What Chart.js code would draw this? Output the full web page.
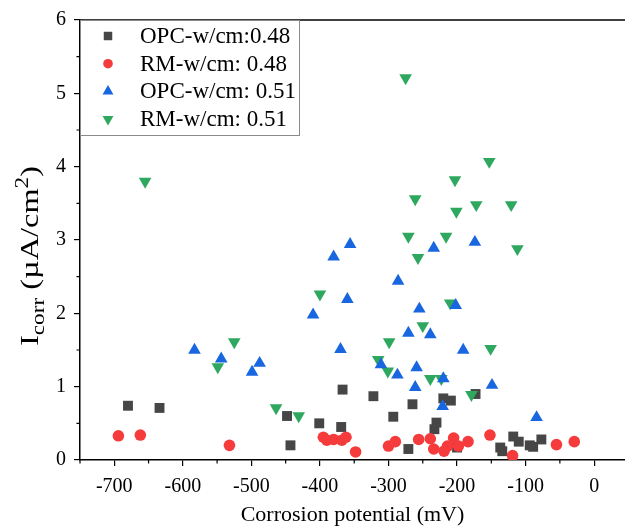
<!DOCTYPE html>
<html>
<head>
<meta charset="utf-8">
<script src="https://cdn.jsdelivr.net/npm/chart.js@4/dist/chart.umd.min.js"></script>
<style>
  html, body { margin: 0; padding: 0; background: #fff; }
</style>
</head>
<body>
<canvas id="chart" width="625" height="532"></canvas>
<script>
// [corrosion potential (mV), Icorr (uA/cm2)]
const opc048 = [
  [-680, 0.74], [-634, 0.71], [-448, 0.60], [-443, 0.20], [-401, 0.50], [-369, 0.45],
  [-367, 0.96], [-322, 0.87], [-293, 0.59], [-271, 0.15], [-265, 0.76], [-233, 0.42],
  [-230, 0.51], [-220, 0.84], [-209, 0.81], [-200, 0.17], [-173, 0.90], [-137, 0.17],
  [-134, 0.12], [-118, 0.32], [-110, 0.25], [-94, 0.20], [-89, 0.18], [-77, 0.28]
];
const rm048 = [
  [-694, 0.33], [-662, 0.34], [-532, 0.20], [-395, 0.31], [-390, 0.27], [-380, 0.28],
  [-368, 0.27], [-362, 0.31], [-348, 0.11], [-300, 0.19], [-290, 0.25], [-256, 0.28],
  [-239, 0.29], [-234, 0.15], [-219, 0.12], [-214, 0.19], [-205, 0.30], [-198, 0.19],
  [-184, 0.25], [-152, 0.34], [-119, 0.06], [-55, 0.21], [-29, 0.25]
];
const opc051 = [
  [-583, 1.50], [-544, 1.38], [-499, 1.20], [-488, 1.32], [-410, 1.98], [-380, 2.77],
  [-370, 1.51], [-360, 2.19], [-356, 2.94], [-311, 1.30], [-287, 1.16], [-286, 2.44],
  [-271, 1.73], [-261, 0.99], [-259, 1.26], [-255, 2.06], [-239, 1.71], [-234, 2.89],
  [-221, 0.73], [-220, 1.11], [-202, 2.11], [-191, 1.50], [-174, 2.97], [-149, 1.02],
  [-84, 0.58]
];
const rm051 = [
  [-655, 3.80], [-549, 1.27], [-525, 1.61], [-464, 0.71], [-431, 0.60], [-400, 2.26],
  [-315, 1.37], [-301, 1.21], [-299, 1.61], [-275, 5.21], [-271, 3.05], [-261, 3.56],
  [-257, 2.76], [-250, 1.83], [-239, 1.11], [-223, 1.11], [-216, 3.05], [-210, 2.14],
  [-203, 3.82], [-201, 3.39], [-179, 0.89], [-172, 3.48], [-153, 4.07], [-151, 1.52],
  [-121, 3.48], [-112, 2.88]
];

const seriesNames = ['OPC-w/cm:0.48', 'RM-w/cm: 0.48', 'OPC-w/cm: 0.51', 'RM-w/cm: 0.51'];
const xTicks = [-700, -600, -500, -400, -300, -200, -100, 0];
const xMinor = [-750, -650, -550, -450, -350, -250, -150, -50];
const yTicks = [0, 1, 2, 3, 4, 5, 6];
const yMinor = [0.5, 1.5, 2.5, 3.5, 4.5, 5.5];

const serif = "'Liberation Serif', 'Times New Roman', serif";

function toPoints(arr) {
  return arr.map(p => ({ x: p[0], y: p[1] }));
}

const datasets = [
  { label: seriesNames[0], data: toPoints(opc048), pointStyle: 'rect', pointRadius: 7,
    backgroundColor: '#464646', borderColor: '#464646', borderWidth: 0, order: 4 },
  { label: seriesNames[1], data: toPoints(rm048), pointStyle: 'circle', pointRadius: 5.8,
    backgroundColor: '#f53b3b', borderColor: '#f53b3b', borderWidth: 0, order: 3 },
  { label: seriesNames[2], data: toPoints(opc051), pointStyle: 'triangle', pointRadius: 7.3,
    backgroundColor: '#1866e0', borderColor: '#1866e0', borderWidth: 0, order: 1 },
  { label: seriesNames[3], data: toPoints(rm051), pointStyle: 'triangle', pointRadius: 7.3, rotation: 180,
    backgroundColor: '#2ea85e', borderColor: '#2ea85e', borderWidth: 0, order: 2 }
];

// frame top line, minor ticks, y title, legend box
const extras = {
  id: 'extras',
  afterDraw(chart) {
    const c = chart.ctx;
    const area = chart.chartArea;
    const xs = chart.scales.x, ys = chart.scales.y;
    c.save();
    c.strokeStyle = '#000';
    c.lineWidth = 1.5;
    c.beginPath();
    c.moveTo(area.left, area.top);
    c.lineTo(area.right, area.top);
    c.stroke();

    c.lineWidth = 1.2;
    c.beginPath();
    xMinor.forEach(v => {
      const px = xs.getPixelForValue(v);
      c.moveTo(px, area.bottom);
      c.lineTo(px, area.bottom + 3.5);
    });
    yMinor.forEach(v => {
      const py = ys.getPixelForValue(v);
      c.moveTo(area.left, py);
      c.lineTo(area.left - 3.5, py);
    });
    c.stroke();

    // y axis title with subscript / superscript
    c.translate(38, 256);
    c.rotate(-Math.PI / 2);
    c.fillStyle = '#000';
    c.textBaseline = 'alphabetic';
    const big = '25px ' + serif, small = '18px ' + serif;
    const parts = [
      { t: 'I', f: big, dy: 0 },
      { t: 'corr', f: small, dy: 6 },
      { t: ' (\u00b5A/cm', f: big, dy: 0 },
      { t: '2', f: small, dy: -10 },
      { t: ')', f: big, dy: 0 }
    ];
    let total = 0;
    parts.forEach(p => { c.font = p.f; p.w = c.measureText(p.t).width; total += p.w; });
    const stretch = 180 / total;
    c.scale(stretch, 1);
    let x = -total / 2;
    parts.forEach(p => { c.font = p.f; c.fillText(p.t, x, p.dy); x += p.w; });
    c.restore();

    // legend
    c.save();
    const lx = area.left, ly = area.top, lw = 219, lh = 115;
    c.fillStyle = '#fff';
    c.fillRect(lx, ly, lw, lh);
    c.strokeStyle = '#8a8a8a';
    c.lineWidth = 1;
    c.strokeRect(lx + 0.5, ly + 0.5, lw, lh);
    c.font = '23px ' + serif;
    c.textBaseline = 'middle';
    chart.data.datasets.forEach((ds, i) => {
      const cy = ly + 16 + i * 27.7;
      c.fillStyle = ds.backgroundColor;
      Chart.helpers.drawPoint(c, {
        pointStyle: ds.pointStyle, radius: ds.pointRadius - 1, rotation: ds.rotation || 0, borderWidth: 0
      }, lx + 28, cy);
      c.fillStyle = '#000';
      c.fillText(ds.label, lx + 60, cy + 1);
    });
    c.restore();
  }
};

new Chart(document.getElementById('chart'), {
  type: 'scatter',
  data: { datasets: datasets },
  options: {
    responsive: false,
    animation: false,
    layout: { autoPadding: false, padding: { top: 20, right: 0, left: 0, bottom: 0 } },
    plugins: { legend: { display: false }, tooltip: { enabled: false } },
    scales: {
      x: {
        type: 'linear', min: -750, max: 45, bounds: 'data',
        afterBuildTicks: s => { s.ticks = xTicks.map(v => ({ value: v })); },
        afterFit: s => { s.height = 72; s.paddingLeft = 0; s.paddingRight = 0; },
        grid: { drawOnChartArea: false, tickLength: 6, color: '#000', lineWidth: 1.2 },
        border: { color: '#000', width: 1.5 },
        ticks: { font: { family: serif, size: 20 }, color: '#000', padding: 9, maxRotation: 0 },
        title: { display: true, text: 'Corrosion potential (mV)', color: '#000',
                 font: { family: serif, size: 22 }, padding: { top: 4, bottom: 4 } }
      },
      y: {
        type: 'linear', min: 0, max: 6,
        afterBuildTicks: s => { s.ticks = yTicks.map(v => ({ value: v })); },
        afterFit: s => { s.width = 80; },
        grid: { drawOnChartArea: false, tickLength: 6, color: '#000', lineWidth: 1.2 },
        border: { color: '#000', width: 1.5 },
        ticks: { font: { family: serif, size: 20 }, color: '#000', padding: 8 }
      }
    }
  },
  plugins: [extras]
});
</script>
</body>
</html>
